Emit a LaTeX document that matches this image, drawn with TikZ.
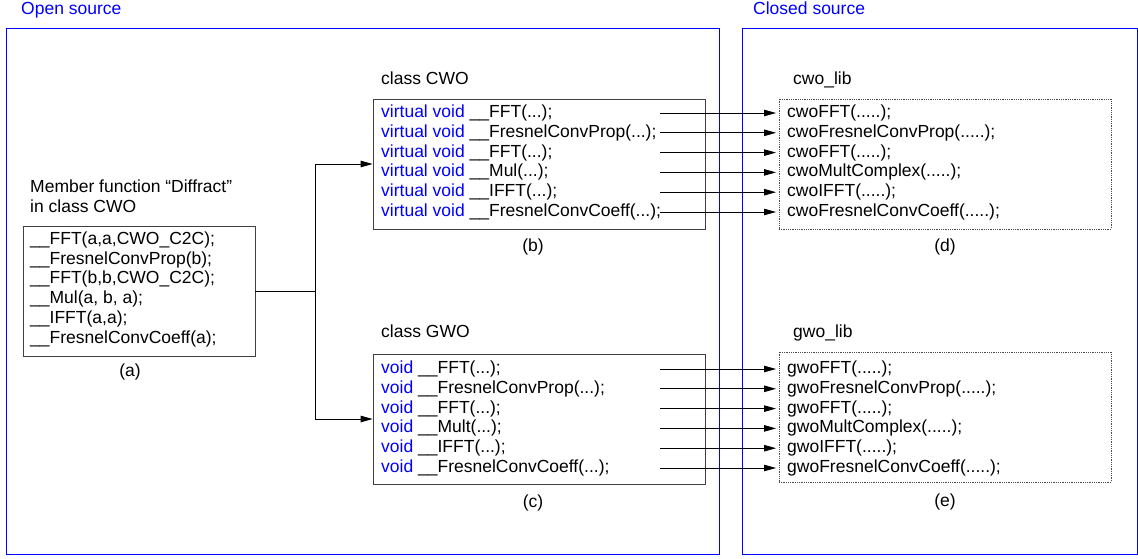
\documentclass[tikz,border=0pt]{standalone}
\usepackage{fontspec}
\setmainfont{Liberation Sans}
\usepackage{tikz}
\usetikzlibrary{arrows.meta}

\definecolor{kwblue}{RGB}{0,0,255}
\newcommand{\diagfont}{\fontsize{17.5}{19.8}\selectfont}
\newcommand{\kwd}[1]{\textcolor{kwblue}{#1}}

\begin{document}
\begin{tikzpicture}[x=1pt,y=-1pt,font=\diagfont,
region/.style={draw=kwblue, line width=0.9pt},
srcbox/.style={draw=black!75, line width=0.8pt, minimum width=332pt, minimum height=130pt, inner sep=0pt},
libbox/.style={srcbox, draw=black!70, densely dotted},
row/.style={anchor=west, inner sep=0pt, text height=12.5pt, text depth=3.5pt},
tag/.style={inner sep=0pt},
callarrow/.style={line width=0.8pt, -{Triangle[length=12pt,width=6.5pt]}}]
\useasboundingbox (0,0) rectangle (1138,559);
% draws open / closed regions
\node[row, kwblue] (open) at (21,10) {Open source};
\node[row, kwblue] (closed) at (753,10) {Closed source};
\draw[region] (6,28) rectangle (719,554);
\draw[region] (742,28) rectangle (1137,554);
% draws boxes
\node[srcbox, minimum width=232pt] (a) at (139,291) {};
\node[srcbox] (b) at (539,164) {};
\node[srcbox] (c) at (539,419) {};
\node[libbox] (d) at (945,164) {};
\node[libbox] (e) at (945,417) {};
% titles and labels
\node[row] (diffa) at (30,188) {Member function “Diffract”};
\node[row] (diffb) at (30,208) {in class CWO};
\node[row] (cwocls) at (381,80) {class CWO};
\node[row] (gwocls) at (381,333) {class GWO};
\node[row] (cwolib) at (793,80) {cwo\_lib};
\node[row] (gwolib) at (793,333) {gwo\_lib};
\node[tag] (la) at (130,372) {(a)};
\node[tag] (lb) at (533,247) {(b)};
\node[tag] (lc) at (533,503) {(c)};
\node[tag] (ld) at (945,247) {(d)};
\node[tag] (le) at (945,502) {(e)};
% rows of (a)
\node[row] (a1) at (30,240) {\_\_FFT(a,a,CWO\_C2C);};
\node[row] (a2) at (30,260) {\_\_FresnelConvProp(b);};
\node[row] (a3) at (30,279) {\_\_FFT(b,b,CWO\_C2C);};
\node[row] (a4) at (30,299) {\_\_Mul(a, b, a);};
\node[row] (a5) at (30,319) {\_\_IFFT(a,a);};
\node[row] (a6) at (30,339) {\_\_FresnelConvCoeff(a);};
% rows of (b)
\node[row] (b1) at (381,113) {\kwd{virtual void} \_\_FFT(...);};
\node[row] (b2) at (381,132.8) {\kwd{virtual void} \_\_FresnelConvProp(...);};
\node[row] (b3) at (381,152.6) {\kwd{virtual void} \_\_FFT(...);};
\node[row] (b4) at (381,172.4) {\kwd{virtual void} \_\_Mul(...);};
\node[row] (b5) at (381,192.2) {\kwd{virtual void} \_\_IFFT(...);};
\node[row] (b6) at (381,212) {\kwd{virtual void} \_\_FresnelConvCoeff(...);};
% rows of (c)
\node[row] (c1) at (381,369) {\kwd{void} \_\_FFT(...);};
\node[row] (c2) at (381,388.8) {\kwd{void} \_\_FresnelConvProp(...);};
\node[row] (c3) at (381,408.6) {\kwd{void} \_\_FFT(...);};
\node[row] (c4) at (381,428.4) {\kwd{void} \_\_Mult(...);};
\node[row] (c5) at (381,448.2) {\kwd{void} \_\_IFFT(...);};
\node[row] (c6) at (381,468) {\kwd{void} \_\_FresnelConvCoeff(...);};
% rows of (d)
\node[row] (d1) at (787,113) {cwoFFT(.....);};
\node[row] (d2) at (787,132.8) {cwoFresnelConvProp(.....);};
\node[row] (d3) at (787,152.6) {cwoFFT(.....);};
\node[row] (d4) at (787,172.4) {cwoMultComplex(.....);};
\node[row] (d5) at (787,192.2) {cwoIFFT(.....);};
\node[row] (d6) at (787,212) {cwoFresnelConvCoeff(.....);};
% rows of (e)
\node[row] (e1) at (787,369) {gwoFFT(.....);};
\node[row] (e2) at (787,388.8) {gwoFresnelConvProp(.....);};
\node[row] (e3) at (787,408.6) {gwoFFT(.....);};
\node[row] (e4) at (787,428.4) {gwoMultComplex(.....);};
\node[row] (e5) at (787,448.2) {gwoIFFT(.....);};
\node[row] (e6) at (787,468) {gwoFresnelConvCoeff(.....);};
% draws calls
\coordinate (split) at (315,291);
\coordinate (stub) at (660,0);
\draw[callarrow] (a.east) -- (split) |- (b.west);
\draw[callarrow] (split) |- (c.west);
\draw[callarrow, shorten >=11pt] (b1 -| stub) -- (d1);
\draw[callarrow, shorten >=11pt] (b2 -| stub) -- (d2);
\draw[callarrow, shorten >=11pt] (b3 -| stub) -- (d3);
\draw[callarrow, shorten >=11pt] (b4 -| stub) -- (d4);
\draw[callarrow, shorten >=11pt] (b5 -| stub) -- (d5);
\draw[callarrow, shorten >=11pt] (b6 -| stub) -- (d6);
\draw[callarrow, shorten >=11pt] (c1 -| stub) -- (e1);
\draw[callarrow, shorten >=11pt] (c2 -| stub) -- (e2);
\draw[callarrow, shorten >=11pt] (c3 -| stub) -- (e3);
\draw[callarrow, shorten >=11pt] (c4 -| stub) -- (e4);
\draw[callarrow, shorten >=11pt] (c5 -| stub) -- (e5);
\draw[callarrow, shorten >=11pt] (c6 -| stub) -- (e6);
\end{tikzpicture}
\end{document}
